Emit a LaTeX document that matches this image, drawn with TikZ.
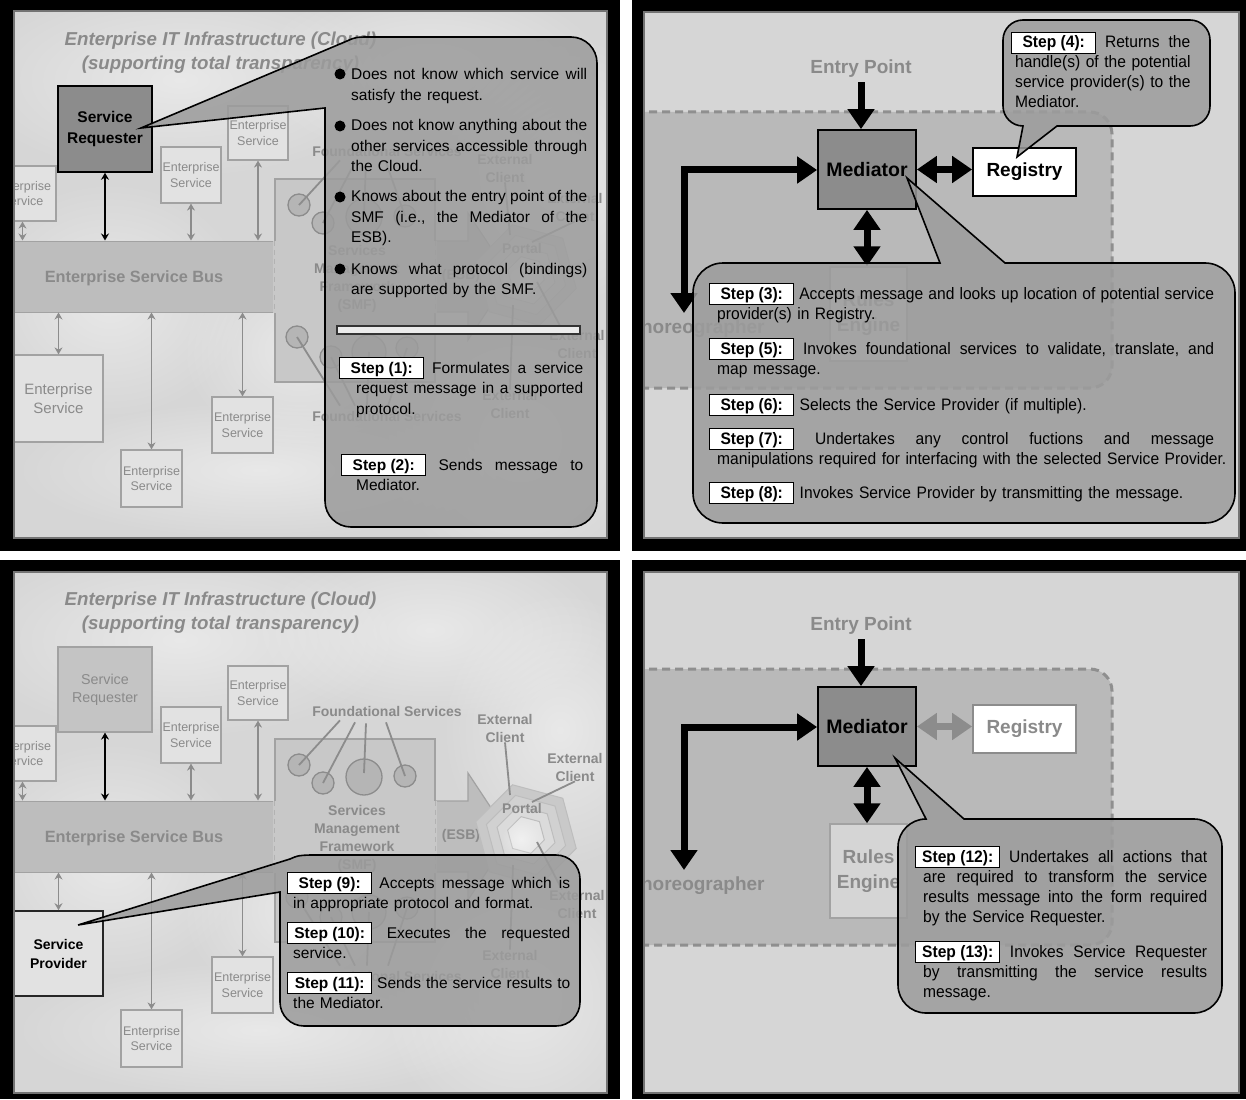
\documentclass[tikz,border=0pt]{standalone}
\usepackage{fontspec}
\setmainfont{Liberation Sans}
\newfontfamily\narrowfont[FakeStretch=0.94]{Liberation Sans}
\usetikzlibrary{arrows.meta,fadings}

\definecolor{cloudbg}{HTML}{D6D6D6}
\definecolor{txtgray}{HTML}{8A8A8A}
\definecolor{linegray}{HTML}{8C8C8C}
\definecolor{boxfill}{HTML}{E2E2E2}
\definecolor{boxdraw}{HTML}{A2A2A2}
\definecolor{busfill}{HTML}{BDBDBD}
\definecolor{smffill}{HTML}{C8C8C8}
\definecolor{circfill}{HTML}{B5B5B5}
\definecolor{calloutfill}{HTML}{9C9C9C}
\definecolor{panelbg}{HTML}{D6D6D6}
\definecolor{zonefill}{HTML}{B9B9B9}
\definecolor{zonedash}{HTML}{8F8F8F}
\definecolor{medfill}{HTML}{8C8C8C}
\definecolor{rulesfill}{HTML}{D5D5D5}
\definecolor{reqgray}{HTML}{C4C4C4}

\tikzfading[name=puff, inner color=transparent!55, outer color=transparent!100]

\newcommand\fsz[2]{\fontsize{#1}{#2}\selectfont}
% white label box for a step number
\newcommand\stepbox[1]{\smash{\spaceskip=0pt\relax\setlength\fboxsep{2pt}\setlength\fboxrule{1pt}%
  \fcolorbox{black}{white}{\makebox[79pt]{\vrule width 0pt height 13pt depth 2pt\bfseries #1}}}}
% one fully justified line of a given width
\newcommand\jline[2]{\leavevmode\hbox to #1{\frenchspacing
  \spaceskip=\fontdimen2\font plus 1fil minus \fontdimen4\font\relax #2}}

\tikzset{
  innerline/.style={draw=black!55, line width=1.5pt},
  titletext/.style={text=txtgray, font=\bfseries\itshape\fsz{18.7}{24}, align=center, inner sep=0pt},
  graylabel/.style={text=txtgray, font=\bfseries\fsz{14}{18}, align=center, inner sep=0pt},
  buslabel/.style={text=txtgray, font=\bfseries\fsz{16.3}{20}, inner sep=0pt},
  busband/.style={fill=busfill, draw=boxdraw, line width=1pt, inner sep=0pt},
  busdash/.style={draw=black!30, line width=1pt, dash pattern=on 5pt off 4pt},
  smfbox/.style={fill=smffill, draw=boxdraw, line width=1.2pt, inner sep=0pt},
  fscirc/.style={circle, fill=circfill, draw=linegray, line width=1.3pt, inner sep=0pt},
  thinline/.style={draw=linegray, line width=1.8pt},
  esbox/.style={draw=boxdraw, line width=1.2pt, fill=boxfill, text=txtgray, align=center, inner sep=0pt, font=\fsz{12.5}{15.5}},
  bigesbox/.style={esbox, font=\fsz{15}{19}},
  reqhi/.style={fill=medfill, draw=black, line width=1.6pt, text=black, align=center, inner sep=0pt, font=\bfseries\fsz{15.5}{21}},
  reqlo/.style={fill=reqgray, draw=boxdraw, line width=1.2pt, text=txtgray, align=center, inner sep=0pt, font=\fsz{14.3}{18}},
  provhi/.style={fill=boxfill, draw=black!85, line width=1.6pt, text=black, align=center, inner sep=0pt, font=\bfseries\fsz{14}{19}},
  graylink/.style={draw=linegray, line width=1.8pt, arrows={Stealth[length=7pt,width=8pt]-Stealth[length=7pt,width=8pt]}},
  blacklink/.style={graylink, draw=black},
  callout/.style={fill=calloutfill, fill opacity=0.86, draw=black, line width=1.6pt},
  ctext/.style={anchor=base west, inner sep=0pt, align=left, text=black},
  wide/.style={font=\fsz{15.5}{20.5}},
  narrow/.style={font=\narrowfont\fsz{16.6}{20}},
  zone/.style={fill=zonefill, draw=zonedash, line width=3pt, dash pattern=on 8pt off 5pt},
  biglabel/.style={text=txtgray, font=\bfseries\fsz{19}{25}, align=center, inner sep=0pt},
  medbox/.style={fill=medfill, draw=black, line width=1.8pt, text=black, font=\bfseries\fsz{19.5}{24}, inner sep=0pt},
  reghi/.style={fill=white, draw=black, line width=1.8pt, text=black, font=\bfseries\fsz{19}{24}, inner sep=0pt},
  reglo/.style={fill=white, draw=linegray, line width=1.8pt, text=txtgray, font=\bfseries\fsz{19}{24}, inner sep=0pt},
  rulesbox/.style={fill=rulesfill, draw=boxdraw, line width=1.5pt, text=txtgray, font=\bfseries\fsz{19}{25}, align=center, inner sep=0pt},
  bigone/.style={draw=black, line width=7pt, arrows={-Triangle[length=20pt,width=26pt]}},
  bigtwo/.style={draw=black, line width=7pt, arrows={Triangle[length=20pt,width=26pt]-Triangle[length=20pt,width=26pt]}},
}

% Cloud infrastructure scene shared by the two left panels
\newcommand\cloudbase{%
  \fill[cloudbg] (0,-20) rectangle (640,580);
  \foreach \px/\py/\rx/\ry in {180/80/220/100, 430/70/180/90, 110/300/140/120, 260/470/250/70, 520/440/140/140, 560/170/120/140, 300/350/120/100}
    \fill[white, path fading=puff] (\px,\py) ellipse [x radius=\rx, y radius=\ry];
  \node[titletext] (title) at (220.5,53) {Enterprise IT Infrastructure (Cloud)\\(supporting total transparency)};
  % service bus
  \node[busband, minimum width=290pt, minimum height=71pt] (bus) at (130,276.5) {};
  \node[buslabel] (buslbl) at (134,278) {Enterprise Service Bus};
  \filldraw[fill=busfill, draw=boxdraw, line width=1.2pt] (435,241) -- (468,241) -- (468,213) -- (510,276.5) -- (468,340) -- (468,312) -- (435,312) -- cycle;
  % services management framework
  \node[smfbox, minimum width=160pt, minimum height=203pt] (smf) at (355,280.5) {};
  \draw[draw=smffill, line width=2.5pt] (smf.west |- bus.north) -- (smf.west |- bus.south);
  \draw[busdash] (smf.west |- bus.north) -- (smf.west |- bus.south);
  \draw[draw=smffill, line width=2.5pt] (smf.east |- bus.north) -- (smf.east |- bus.south);
  \draw[busdash] (smf.east |- bus.north) -- (smf.east |- bus.south);
  \node[graylabel] (smflbl) at (357,279) {Services\\Management\\Framework\\(SMF)};
  \node[graylabel] (esblbl) at (461,276) {(ESB)};
  % foundational services, upper group
  \node[fscirc, minimum size=22pt] (c1) at (299,205) {};
  \node[fscirc, minimum size=22pt] (c2) at (323,223) {};
  \node[fscirc, minimum size=36pt] (c3) at (364,217) {};
  \node[fscirc, minimum size=22pt] (c4) at (405,216) {};
  \node[graylabel] (fsu) at (387,151) {Foundational Services};
  \draw[thinline] ([xshift=-47pt,yshift=-4pt]fsu.south) -- (c1.center);
  \draw[thinline] ([xshift=-32pt,yshift=-6pt]fsu.south) -- (c2.center);
  \draw[thinline] ([xshift=-21pt,yshift=-7pt]fsu.south) -- ([yshift=4pt]c3.center);
  \draw[thinline] ([xshift=-1pt,yshift=-6pt]fsu.south) -- (c4.center);
  % foundational services, lower group
  \node[fscirc, minimum size=22pt] (c5) at (297,337) {};
  \node[fscirc, minimum size=22pt] (c6) at (331,357) {};
  \node[fscirc, minimum size=34pt] (c7) at (369,352) {};
  \node[fscirc, minimum size=22pt] (c8) at (407,348) {};
  \node[graylabel] (fsl) at (387,416) {Foundational Services};
  \draw[thinline] ([xshift=-47pt,yshift=5pt]fsl.north) -- (c5.center);
  \draw[thinline] ([xshift=-32pt,yshift=5pt]fsl.north) -- (c6.center);
  \draw[thinline] ([xshift=-20pt,yshift=5pt]fsl.north) -- (c7.center);
  \draw[thinline] ([xshift=1pt,yshift=5pt]fsl.north) -- (c8.center);
  % portal and external clients
  \coordinate (portalc) at (526,275);
  \foreach \r/\g in {52/21,41/18,30/14,19/10}
    \filldraw[fill=black!\g, draw=black!26, line width=1pt] (portalc) +(15:\r) -- +(75:\r) -- +(135:\r) -- +(195:\r) -- +(255:\r) -- +(315:\r) -- cycle;
  \fill[white, path fading=puff] (521,279) circle[radius=20pt];
  \node[graylabel] (portal) at (522,248) {Portal};
  \node[graylabel] (ext1) at (505,168) {External\\Client};
  \node[graylabel] (ext2) at (575,207) {External\\Client};
  \node[graylabel] (ext3) at (577,344) {External\\Client};
  \node[graylabel] (ext4) at (510,404) {External\\Client};
  \draw[thinline] (ext1.south) -- ([xshift=-16pt,yshift=40pt]portalc);
  \draw[thinline] (ext2.south) -- ([xshift=6pt,yshift=33pt]portalc);
  \draw[thinline] ([xshift=11pt,yshift=-7pt]portalc) -- ([xshift=-15pt]ext3.north);
  \draw[thinline] ([xshift=-13pt,yshift=-30pt]portalc) -- (ext4.north);
  % enterprise services on the bus
  \node[esbox, minimum width=67pt, minimum height=55pt] (es1) at (22.5,193.5) {Enterprise\\Service};
  \node[esbox, minimum width=60pt, minimum height=56pt] (es2) at (191,175) {Enterprise\\Service};
  \node[esbox, minimum width=60pt, minimum height=54pt] (es3) at (258,133) {Enterprise\\Service};
  \node[esbox, minimum width=61pt, minimum height=57pt] (es5) at (151.5,478.5) {Enterprise\\Service};
  \node[esbox, minimum width=61pt, minimum height=56pt] (es6) at (242.5,425) {Enterprise\\Service};
  \draw[graylink] (es1.south) -- (es1.south |- bus.north);
  \draw[graylink] (es2.south) -- (es2.south |- bus.north);
  \draw[graylink] (es3.south) -- (es3.south |- bus.north);
  \draw[graylink] (bus.south -| es5.north) -- (es5.north);
  \draw[graylink] (bus.south -| es6.north) -- (es6.north);
}

% Mediator scene shared by the two right panels
\newcommand\mediatorbase{%
  \fill[panelbg] (620,-20) rectangle (1260,580);
  \filldraw[zone] (610,112) -- (1090,112) arc[start angle=-90,end angle=0,radius=22] -- (1112,366) arc[start angle=0,end angle=90,radius=22] -- (610,388) -- cycle;
  \node[biglabel] (entry) at (861,69) {Entry Point};
  \node[medbox, minimum width=98pt, minimum height=79pt] (med) at (867,169.5) {Mediator};
  \node[rulesbox, minimum width=77pt, minimum height=94pt] (rules) at (868.5,314) {Rules\\Engine};
  \node[biglabel] (chor) at (696,329) {Choreographer};
  \coordinate (lbend) at (684,170);
  \coordinate (lend) at (684,313);
  \draw[bigone, shorten <=4pt] (entry.south) -- (entry.south |- med.north);
  \draw[bigtwo] (med.south) -- (med.south |- rules.north);
  \draw[bigtwo] (lend) -- (lbend) -- (lbend -| med.west);
}

\begin{document}
\begin{tikzpicture}[x=1pt,y=-1pt]
\useasboundingbox (0,0) rectangle (1246,1099);
\fill[white] (0,0) rectangle (1246,1099);
\fill[black] (0,0) rectangle (620,551);
\fill[black] (632,0) rectangle (1246,551);
\fill[black] (0,560) rectangle (620,1099);
\fill[black] (632,560) rectangle (1246,1099);

% ---------- top left: the service requester ----------
\begin{scope}[name prefix=tl-]
  \clip (14,11) rectangle (607,538);
  \cloudbase
  \node[reqhi, minimum width=94pt, minimum height=86pt] (req) at (105,129) {Service\\Requester};
  \draw[blacklink] (req.south) -- (req.south |- bus.north);
  \node[bigesbox, minimum width=89pt, minimum height=87pt] (prov) at (58.5,398.5) {Enterprise\\Service};
  \draw[graylink] (bus.south -| prov.north) -- (prov.north);
  \path[callout] (141,128) -- (347,41) .. controls (356,37) .. (372,37) -- (571,37) arc[start angle=-90,end angle=0,radius=26] -- (597,501) arc[start angle=0,end angle=90,radius=26] -- (351,527) arc[start angle=90,end angle=180,radius=26] -- (325,108) -- cycle;
  \fill (340,74) circle[radius=5.5pt];
  \fill (340,126) circle[radius=5.5pt];
  \fill (340,197) circle[radius=5.5pt];
  \fill (340,269) circle[radius=5.5pt];
  \node[ctext, wide, text width=260pt] (b1) at (351,80) {\jline{236pt}{Does not know which service will}\\ satisfy the request.};
  \node[ctext, wide, text width=260pt] (b2) at (351,131) {\jline{236pt}{Does not know anything about the}\\ \jline{236pt}{other services accessible through}\\ the Cloud.};
  \node[ctext, wide, text width=260pt] (b3) at (351,202) {\jline{236pt}{Knows about the entry point of the}\\ \jline{236pt}{SMF (i.e., the Mediator of the}\\ ESB).};
  \node[ctext, wide, text width=260pt] (b4) at (351,274) {\jline{236pt}{Knows what protocol (bindings)}\\ are supported by the SMF.};
  \filldraw[fill=black!8, draw=black!80, line width=1.2pt] (337,326) rectangle (580,334);
  \node[ctext, wide, text width=260pt] (s1) at (356,373) {\jline{227pt}{\hspace*{-17pt}\stepbox{Step (1):} Formulates a service}\\ \jline{227pt}{request message in a supported}\\ protocol.};
  \node[ctext, wide, text width=260pt] (s2) at (356,470) {\jline{227pt}{\hspace*{-15pt}\stepbox{Step (2):} Sends message to}\\ Mediator.};
\end{scope}

% ---------- bottom left: the service provider ----------
\begin{scope}[shift={(0,560)}, name prefix=bl-]
  \clip (14,12) rectangle (607,533);
  \cloudbase
  \node[reqlo, minimum width=94pt, minimum height=85pt] (req) at (105,129.5) {Service\\Requester};
  \draw[blacklink] (req.south) -- (req.south |- bus.north);
  \node[provhi, minimum width=89pt, minimum height=85pt] (prov) at (58.5,393.5) {Service\\Provider};
  \draw[graylink] (bus.south -| prov.north) -- (prov.north);
  \path[callout] (78,365) -- (290,299) .. controls (298,295.5) .. (310,295) -- (556,295) arc[start angle=-90,end angle=0,radius=24] -- (580,442) arc[start angle=0,end angle=90,radius=24] -- (304,466) arc[start angle=90,end angle=180,radius=24] -- (280,332) -- cycle;
  \node[ctext, wide, text width=300pt] (s9) at (293,328) {\jline{277pt}{\hspace*{-6pt}\stepbox{Step (9):} Accepts message which is}\\ in appropriate protocol and format.};
  \node[ctext, wide, text width=300pt] (s10) at (293,378) {\jline{277pt}{\hspace*{-6pt}\stepbox{Step (10):} Executes the requested}\\ service.};
  \node[ctext, wide, text width=300pt] (s11) at (293,428) {\jline{277pt}{\hspace*{-6pt}\stepbox{Step (11):} Sends the service results to}\\ the Mediator.};
\end{scope}

% ---------- top right: the mediator and the registry ----------
\begin{scope}[name prefix=tr-]
  \clip (644,12) rectangle (1239,538);
  \mediatorbase
  \node[reghi, minimum width=103pt, minimum height=48pt] (reg) at (1024.5,172) {Registry};
  \draw[bigtwo] (med.east) -- (med.east -| reg.west);
  \path[callout] (1017,157) -- (1023,126) arc[start angle=90,end angle=180,radius=20] -- (1003,40) arc[start angle=180,end angle=270,radius=20] -- (1190,20) arc[start angle=-90,end angle=0,radius=20] -- (1210,106) arc[start angle=0,end angle=90,radius=20] -- (1057,126) -- cycle;
  \node[ctext, narrow, text width=200pt] (s4) at (1015,48) {\jline{175pt}{\hspace*{-4pt}\stepbox{Step (4):} Returns the}\\ handle(s) of the potential\\ service provider(s) to the\\ Mediator.};
  \path[callout] (907,178) -- (1005,263) -- (1205,263) arc[start angle=-90,end angle=0,radius=30] -- (1235,493) arc[start angle=0,end angle=90,radius=30] -- (723,523) arc[start angle=90,end angle=180,radius=30] -- (693,293) arc[start angle=180,end angle=270,radius=30] -- (940,263) -- cycle;
  \node[ctext, narrow, text width=520pt] (s3) at (717,299) {\jline{497pt}{\hspace*{-8pt}\stepbox{Step (3):} Accepts message and looks up location of potential service}\\ provider(s) in Registry.};
  \node[ctext, narrow, text width=520pt] (s5) at (717,354) {\jline{497pt}{\hspace*{-8pt}\stepbox{Step (5):} Invokes foundational services to validate, translate, and}\\ map message.};
  \node[ctext, narrow, text width=520pt] (s6) at (717,410) {\hspace*{-8pt}\stepbox{Step (6):} Selects the Service Provider (if multiple).};
  \node[ctext, narrow, text width=520pt] (s7) at (717,444) {\jline{497pt}{\hspace*{-8pt}\stepbox{Step (7):} Undertakes any control fuctions and message}\\ manipulations required for interfacing with the selected Service Provider.};
  \node[ctext, narrow, text width=520pt] (s8) at (717,498) {\hspace*{-8pt}\stepbox{Step (8):} Invokes Service Provider by transmitting the message.};
\end{scope}

% ---------- bottom right: results back to the requester ----------
\begin{scope}[shift={(0,557)}, name prefix=br-]
  \clip (644,15) rectangle (1239,536);
  \mediatorbase
  \node[reglo, minimum width=103pt, minimum height=48pt] (reg) at (1024.5,172) {Registry};
  \draw[bigtwo, draw=linegray] (med.east) -- (med.east -| reg.west);
  \path[callout] (895,201) -- (964,262) -- (1194,262) arc[start angle=-90,end angle=0,radius=28] -- (1222,428) arc[start angle=0,end angle=90,radius=28] -- (926,456) arc[start angle=90,end angle=180,radius=28] -- (898,290) arc[start angle=180,end angle=270,radius=28] -- cycle;
  \node[ctext, narrow, text width=300pt] (s12) at (923,305) {\jline{284pt}{\hspace*{-8pt}\stepbox{Step (12):} Undertakes all actions that}\\ \jline{284pt}{are required to transform the service}\\ \jline{284pt}{results message into the form required}\\ by the Service Requester.};
  \node[ctext, narrow, text width=300pt] (s13) at (923,400) {\jline{284pt}{\hspace*{-8pt}\stepbox{Step (13):} Invokes Service Requester}\\ \jline{284pt}{by transmitting the service results}\\ message.};
\end{scope}

% thin rims inside the black frames
\draw[innerline] (14,11) rectangle (607,538);
\draw[innerline] (644,12) rectangle (1239,538);
\draw[innerline] (14,572) rectangle (607,1093);
\draw[innerline] (644,572) rectangle (1239,1093);
\end{tikzpicture}
\end{document}
